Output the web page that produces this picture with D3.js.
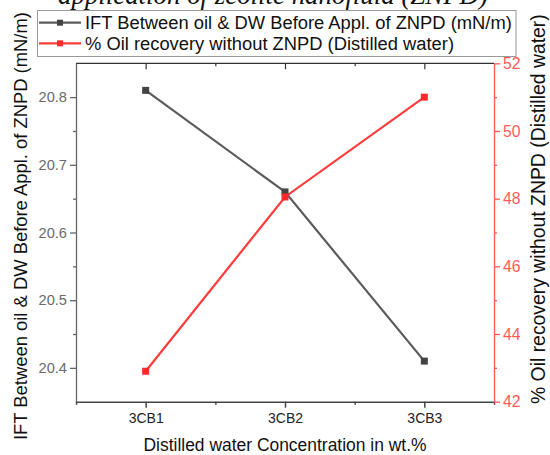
<!DOCTYPE html>
<html><head><meta charset="utf-8">
<script src="https://cdn.jsdelivr.net/npm/d3@7"></script>
<style>
html,body{margin:0;padding:0;background:#fff;}
svg{display:block;}
svg text{font-family:"Liberation Sans",Arial,sans-serif;}
</style></head>
<body>
<svg id="chart" width="550" height="455"></svg>
<script>
const categories = ["3CB1", "3CB2", "3CB3"];
const iftValues = [20.81, 20.66, 20.41];
const oilRecovery = [42.9, 48.05, 51.0];
const leftTicks = [20.4, 20.5, 20.6, 20.7, 20.8];
const rightTicks = [42, 44, 46, 48, 50, 52];
const iftName = "IFT Between oil & DW Before Appl. of ZNPD (mN/m)";
const oilName = "% Oil recovery without ZNPD (Distilled water)";
const xTitle = "Distilled water Concentration in wt.%";
const titleText = "application of zeolite nanofluid (ZNPD)";

const svg = d3.select("#chart");
const L = 76, R = 494, T = 63.3, B = 401.7;
const GRAY = "#5b5b5b", RED = "#ff3c3c", RED_AX = "#ff5a5a";
const SANS = '"Liberation Sans",Arial,sans-serif';

function fit(sel, target) {
  sel.each(function () {
    const n = d3.select(this);
    n.style("font-size", "20px");
    const len = this.getComputedTextLength();
    if (len > 0) n.style("font-size", (20 * target / len).toFixed(2) + "px");
  });
}

const x = d3.scaleLinear().domain([0.5, 3.5]).range([L, R]);
const yL = d3.scaleLinear().domain([20.35, 20.85]).range([B, T]);
const yR = d3.scaleLinear().domain([42, 52]).range([B, T]);
const idx = categories.map((c, i) => i + 1);

// title, partly cut off at the top edge as in the reference
const tt = svg.append("text").attr("x", 273).attr("y", 3.5).attr("text-anchor", "middle")
  .style("font-family", '"Liberation Serif","Times New Roman",serif')
  .style("font-style", "italic").attr("fill", "#111")
  .text(titleText);
fit(tt, 430);

// top axis (inward ticks)
const topAx = svg.append("g").attr("transform", `translate(0,${T})`)
  .call(d3.axisTop(x).tickValues(idx).tickSize(-6).tickFormat(""));
topAx.append("g").call(d3.axisTop(x).tickValues([1.5, 2.5]).tickSize(-3).tickFormat(""));
topAx.selectAll("path,line").attr("stroke", "#333").attr("stroke-width", 1.2);
topAx.selectAll(".domain").remove();
svg.append("line").attr("x1", L).attr("x2", R).attr("y1", T).attr("y2", T)
  .attr("stroke", "#333").attr("stroke-width", 1.2);

// bottom axis
const bx = svg.append("g").attr("transform", `translate(0,${B})`)
  .call(d3.axisBottom(x).tickValues(idx).tickSize(6).tickSizeOuter(3).tickPadding(5)
    .tickFormat((d, i) => categories[i]));
bx.append("g").call(d3.axisBottom(x).tickValues([1.5, 2.5]).tickSize(3).tickFormat(""))
  .select(".domain").remove();
bx.attr("font-family", SANS);
bx.selectAll("path,line").attr("stroke", "#444").attr("stroke-width", 1.5);
bx.selectAll("text").attr("fill", "#222");
fit(bx.selectAll(".tick text"), 35);

// left axis
const minorL = [20.45, 20.55, 20.65, 20.75];
const lx = svg.append("g").attr("transform", `translate(${L},0)`)
  .call(d3.axisLeft(yL).tickValues(leftTicks).tickSize(6).tickSizeOuter(0).tickPadding(3)
    .tickFormat(d3.format(".1f")));
lx.append("g").call(d3.axisLeft(yL).tickValues(minorL).tickSize(3).tickFormat(""))
  .select(".domain").remove();
lx.attr("font-family", SANS);
lx.selectAll("path,line").attr("stroke", "#666").attr("stroke-width", 1.3);
lx.selectAll("text").attr("fill", "#6a6a6a");
fit(lx.selectAll(".tick text"), 28.5);

// right axis
const minorR = [43, 45, 47, 49, 51];
const rx = svg.append("g").attr("transform", `translate(${R},0)`)
  .call(d3.axisRight(yR).tickValues(rightTicks).tickSize(6).tickSizeOuter(0).tickPadding(3));
rx.append("g").call(d3.axisRight(yR).tickValues(minorR).tickSize(3).tickFormat(""))
  .select(".domain").remove();
rx.attr("font-family", SANS);
rx.selectAll("path,line").attr("stroke", RED_AX).attr("stroke-width", 1.3);
rx.selectAll("text").attr("fill", RED_AX);
fit(rx.selectAll(".tick text"), 17.5);

// series lines and markers
const lineL = d3.line().x((d, i) => x(i + 1)).y(d => yL(d));
const lineR = d3.line().x((d, i) => x(i + 1)).y(d => yR(d));
svg.append("path").datum(iftValues).attr("d", lineL).attr("fill", "none")
  .attr("stroke", GRAY).attr("stroke-width", 2.2);
svg.append("path").datum(oilRecovery).attr("d", lineR).attr("fill", "none")
  .attr("stroke", RED).attr("stroke-width", 2.2);
const S = 7;
svg.selectAll(".mL").data(iftValues).enter().append("rect")
  .attr("x", (d, i) => x(i + 1) - S / 2).attr("y", d => yL(d) - S / 2)
  .attr("width", S).attr("height", S).attr("fill", "#444");
svg.selectAll(".mR").data(oilRecovery).enter().append("rect")
  .attr("x", (d, i) => x(i + 1) - S / 2).attr("y", d => yR(d) - S / 2)
  .attr("width", S).attr("height", S).attr("fill", "#ff2a2a");

// axis titles
fit(svg.append("text").attr("transform", "translate(27,440) rotate(-90)")
  .attr("fill", "#111").text(iftName), 428);
fit(svg.append("text").attr("transform", "translate(545,404) rotate(-90)")
  .attr("fill", "#111").text(oilName), 390);
fit(svg.append("text").attr("x", 285).attr("y", 451).attr("text-anchor", "middle")
  .attr("fill", "#111").text(xTitle), 283);

// legend
const lg = svg.append("g");
lg.append("rect").attr("x", 37.5).attr("y", 10.5).attr("width", 478.5).attr("height", 46)
  .attr("fill", "#fff").attr("stroke", "#999").attr("stroke-width", 1);
const items = [{name: iftName, c: GRAY, m: "#444"}, {name: oilName, c: RED, m: "#ff2a2a"}];
items.forEach((it, i) => {
  const yy = 22.7 + i * 20.6;
  lg.append("line").attr("x1", 39).attr("x2", 81).attr("y1", yy).attr("y2", yy)
    .attr("stroke", it.c).attr("stroke-width", 2.2);
  lg.append("rect").attr("x", 60 - 3).attr("y", yy - 3).attr("width", 6).attr("height", 6)
    .attr("fill", it.m);
  const t = lg.append("text").attr("x", 85).attr("y", yy + 6.3).attr("fill", "#111")
    .text(it.name);
  if (i === 0) fit(t, 427);
});
const sz = lg.selectAll("text").nodes()[0].style.fontSize;
lg.selectAll("text").style("font-size", sz);
</script>
</body></html>
